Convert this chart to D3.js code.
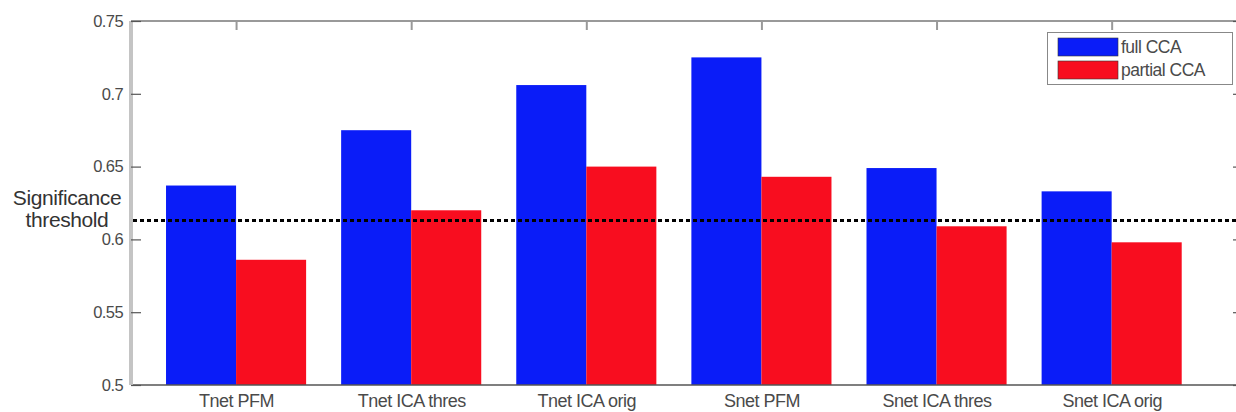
<!DOCTYPE html>
<html>
<head>
<meta charset="utf-8">
<script src="https://cdn.jsdelivr.net/npm/d3@7"></script>
<style>
  html, body { margin: 0; padding: 0; background: #fff; }
  svg { display: block; }
  text { font-family: "Liberation Sans", Arial, sans-serif; }
</style>
</head>
<body>
<svg id="chart" width="1236" height="412"></svg>
<script>
const categories = ["Tnet PFM", "Tnet ICA thres", "Tnet ICA orig", "Snet PFM", "Snet ICA thres", "Snet ICA orig"];
const seriesNames = ["full CCA", "partial CCA"];
const fullCCA = [0.637, 0.675, 0.706, 0.725, 0.649, 0.633];
const partialCCA = [0.586, 0.620, 0.650, 0.643, 0.609, 0.598];
const yTicks = [0.5, 0.55, 0.6, 0.65, 0.7, 0.75];
const yTickLabels = ["0.5", "0.55", "0.6", "0.65", "0.7", "0.75"];
const threshold = 0.613;
const thresholdLabel = ["Significance", "threshold"];
const colors = ["#0a1cf8", "#f80d1f"];

const svg = d3.select("#chart");
const mLeft = 131, mRight = 1243, mTop = 21, mBottom = 385;

const x = d3.scaleLinear().domain([0.4, 6.75]).range([mLeft, mRight]);
const y = d3.scaleLinear().domain([0.5, 0.75]).range([mBottom, mTop]);
const groupW = 0.8, barW = groupW / 2;

const series = [fullCCA, partialCCA];

// bars
series.forEach((vals, s) => {
  svg.append("g").selectAll("rect").data(vals).enter().append("rect")
    .attr("x", (d, i) => x(i + 1 - groupW / 2 + s * barW))
    .attr("width", x(1 + barW) - x(1))
    .attr("y", d => y(d))
    .attr("height", d => y(0.5) - y(d))
    .attr("fill", colors[s]);
});

// axes frame
svg.append("line").attr("x1", mLeft).attr("x2", 1236).attr("y1", mTop).attr("y2", mTop)
  .attr("stroke", "#777").attr("stroke-width", 1.5);
svg.append("line").attr("x1", mLeft).attr("x2", 1236).attr("y1", mBottom).attr("y2", mBottom)
  .attr("stroke", "#555").attr("stroke-width", 1.5);
svg.append("line").attr("x1", mLeft).attr("x2", mLeft).attr("y1", mTop).attr("y2", mBottom)
  .attr("stroke", "#c4c4c4").attr("stroke-width", 4);

// left y axis ticks + labels
const yAxis = d3.axisLeft(y).tickValues(yTicks).tickFormat((d, i) => yTickLabels[i]).tickSize(-10).tickPadding(18);
const ga = svg.append("g").attr("transform", `translate(${mLeft},0)`).call(yAxis);
ga.select(".domain").remove();
ga.selectAll(".tick line").attr("stroke", "#555").attr("stroke-width", 1.2);
ga.selectAll(".tick text").attr("font-size", 16.5).attr("fill", "#4a4a4a").attr("x", -8)
  .attr("letter-spacing", -0.6)
  .attr("font-family", "Liberation Sans, Arial, sans-serif");

// right y ticks
const yAxisR = d3.axisRight(y).tickValues(yTicks).tickFormat("").tickSize(-10);
const gr = svg.append("g").attr("transform", `translate(${mRight},0)`).call(yAxisR);
gr.select(".domain").remove();
gr.selectAll(".tick line").attr("stroke", "#555").attr("stroke-width", 1.2);

// top x ticks
const catIdx = categories.map((c, i) => i + 1);
const xAxisT = d3.axisTop(x).tickValues(catIdx).tickFormat("").tickSize(-9);
const gt = svg.append("g").attr("transform", `translate(0,${mTop})`).call(xAxisT);
gt.select(".domain").remove();
gt.selectAll(".tick line").attr("stroke", "#999").attr("stroke-width", 2);

// bottom category labels
const xAxisB = d3.axisBottom(x).tickValues(catIdx).tickFormat((d) => categories[d - 1]).tickSize(0).tickPadding(9);
const gb = svg.append("g").attr("transform", `translate(0,${mBottom})`).call(xAxisB);
gb.select(".domain").remove();
gb.selectAll(".tick text").attr("font-size", 18).attr("fill", "#4a4a4a")
  .attr("letter-spacing", -0.5)
  .attr("font-family", "Liberation Sans, Arial, sans-serif");

// threshold line
svg.append("line").attr("x1", mLeft + 2).attr("x2", 1236)
  .attr("y1", y(threshold)).attr("y2", y(threshold))
  .attr("stroke", "#000").attr("stroke-width", 3).attr("stroke-dasharray", "4,3");

// threshold label
svg.append("text").attr("x", 67).attr("y", 205).attr("text-anchor", "middle")
  .attr("font-size", 21).attr("letter-spacing", -0.4).attr("fill", "#333").text(thresholdLabel[0]);
svg.append("text").attr("x", 67).attr("y", 227).attr("text-anchor", "middle")
  .attr("font-size", 21).attr("letter-spacing", -0.4).attr("fill", "#333").text(thresholdLabel[1]);

// legend
const lg = svg.append("g");
lg.append("rect").attr("x", 1047.5).attr("y", 32.5).attr("width", 185).attr("height", 52)
  .attr("fill", "#fff").attr("stroke", "#888").attr("stroke-width", 1);
seriesNames.forEach((n, i) => {
  lg.append("rect").attr("x", 1058).attr("y", 38 + i * 23).attr("width", 60).attr("height", 18)
    .attr("fill", colors[i]).attr("stroke", "#333").attr("stroke-width", 0.6);
  lg.append("text").attr("x", 1121).attr("y", 53 + i * 23).attr("font-size", 17.5)
    .attr("letter-spacing", -0.5).attr("fill", "#4a4a4a").text(n);
});
</script>
</body>
</html>
